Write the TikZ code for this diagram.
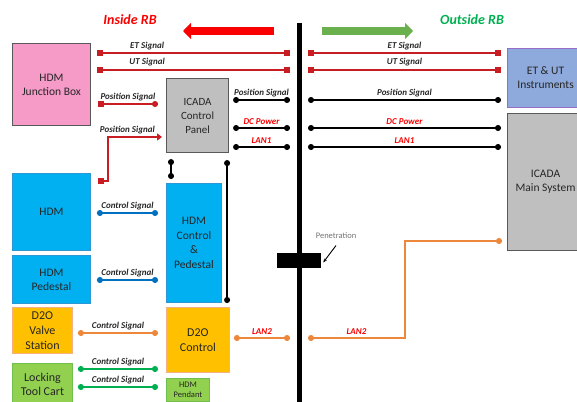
\documentclass[tikz,border=0pt]{standalone}
\usepackage{fontspec}
\setmainfont{Carlito}
\usepackage{xcolor}
\usetikzlibrary{arrows.meta, positioning, calc}
\definecolor{sigred}{RGB}{200,30,35}
\definecolor{txtred}{RGB}{250,0,0}
\definecolor{txtgreen}{RGB}{0,176,80}
\definecolor{arrgreen}{RGB}{106,176,76}
\definecolor{boxpink}{RGB}{246,154,200}
\definecolor{boxgray}{RGB}{191,191,191}
\definecolor{boxblue}{RGB}{0,176,240}
\definecolor{edgeblue}{RGB}{46,150,210}
\definecolor{boxorange}{RGB}{255,192,0}
\definecolor{edgeorange}{RGB}{244,177,131}
\definecolor{boxgreen}{RGB}{146,208,80}
\definecolor{edgegreen}{RGB}{112,190,80}
\definecolor{boxlav}{RGB}{142,169,219}
\definecolor{edgelav}{RGB}{150,110,200}
\definecolor{sigblue}{RGB}{0,112,192}
\definecolor{sigorange}{RGB}{237,135,60}
\definecolor{siggreen}{RGB}{0,176,80}
\definecolor{edgegray}{RGB}{89,89,89}
\tikzset{
  unit/.style={rectangle, anchor=north west, draw=edgegray, line width=0.9pt, align=center,
               text=black!85, font=\fontsize{11.5}{14}\selectfont, inner sep=0pt},
  lbl/.style={font=\fontsize{9}{10}\selectfont\bfseries\itshape, above=1.5pt, inner sep=1pt, text=black!85},
  redsig/.style={draw=sigred, line width=1.4pt, arrows={Square[length=6pt,width=6pt]-Square[length=6pt,width=6pt]}},
  blksig/.style={draw=black, line width=1.4pt, arrows={Circle[length=6pt,width=6pt]-Circle[length=6pt,width=6pt]}},
  bluesig/.style={blksig, draw=sigblue},
  orgsig/.style={blksig, draw=sigorange},
  grnsig/.style={blksig, draw=siggreen},
  side/.style={font=\fontsize{14}{16}\selectfont\bfseries\itshape},
}
\newcommand{\sig}[5]{\draw[#1] #2 -- node[lbl,pos=#5]{#4} #3;}

\begin{document}
\begin{tikzpicture}[x=1pt,y=-1pt]
\useasboundingbox (0,0) rectangle (577,401);
\clip (0,0) rectangle (577,401);

% Wall and sides
\coordinate (wtop) at (299,23);
\coordinate (wbot) at (299,405);
\draw[line width=5pt] (wtop) -- (wbot);
\node[side, text=txtred] (inlbl) at (130,20) {Inside RB};
\node[side, text=txtgreen] (outlbl) at (472,20) {Outside RB};
\coordinate (inA) at (274,31);
\coordinate (inB) at (183,31);
\coordinate (outA) at (322,31);
\coordinate (outB) at (413,31);
\draw[txtred, line width=8pt, -{Triangle[length=8pt,width=16pt]}] (inA) -- (inB);
\draw[arrgreen, line width=8pt, -{Triangle[length=8pt,width=16pt]}] (outA) -- (outB);

% Inside units
\node[unit, fill=boxpink, minimum width=78pt, minimum height=82pt] (jbox) at (12,43) {HDM\\Junction Box};
\node[unit, fill=boxgray, line width=1.1pt, minimum width=62pt, minimum height=74pt,
      font=\fontsize{11}{14}\selectfont] (cpanel) at (166,78) {ICADA\\Control\\Panel};
\node[unit, fill=boxblue, draw=edgeblue, minimum width=78pt, minimum height=77pt] (hdm) at (12,173) {HDM};
\node[unit, fill=boxblue, draw=edgeblue, minimum width=78pt, minimum height=48pt] (hdmped) at (12,255) {HDM\\Pedestal};
\node[unit, fill=boxblue, draw=edgeblue, minimum width=55pt, minimum height=119pt,
      font=\fontsize{11.5}{14.5}\selectfont] (hdmctl) at (166,183) {HDM\\Control\\\&\\Pedestal};
\node[unit, fill=boxorange, draw=edgeorange, minimum width=60pt, minimum height=46pt,
      font=\fontsize{12}{15}\selectfont] (d2ovalve) at (12,307) {D2O\\Valve\\Station};
\node[unit, fill=boxorange, draw=edgeorange, minimum width=63pt, minimum height=65pt,
      font=\fontsize{12}{15}\selectfont] (d2octl) at (166,307) {D2O\\Control};
\node[unit, fill=boxgreen, draw=edgegreen, minimum width=60pt, minimum height=42pt,
      font=\fontsize{12}{14}\selectfont] (cart) at (12,363) {Locking\\Tool Cart};
\node[unit, fill=boxgreen, draw=edgegreen, minimum width=43pt, minimum height=23pt,
      font=\fontsize{8.5}{10}\selectfont] (pendant) at (166,378) {HDM\\Pendant};

% Outside units
\node[unit, fill=boxlav, draw=edgelav, line width=1.1pt, minimum width=76pt, minimum height=59pt] (etut) at (507,48) {ET \& UT\\Instruments};
\node[unit, fill=boxgray, line width=1.1pt, minimum width=76pt, minimum height=137pt] (icada) at (507,113) {ICADA\\Main System};

% Penetration
\node[fill=black, minimum width=44pt, minimum height=15pt, inner sep=0pt] (pen) at (299,260.5) {};
\node[font=\fontsize{8.5}{9}\selectfont, text=black!55] (penlbl) at (336,236) {Penetration};
\draw[-{Stealth[length=4pt]}, line width=0.9pt] ([yshift=-3pt]penlbl.south) -- ([xshift=2pt,yshift=-2pt]pen.east);

% Signals inside RB
\sig{redsig}{([xshift=6pt]jbox.east |- 0,53)}{([xshift=-9pt]wtop |- 0,53)}{ET Signal}{0.26}
\sig{redsig,line width=2.4pt}{([xshift=6pt]jbox.east |- 0,70)}{([xshift=-9pt]wtop |- 0,70)}{UT Signal}{0.26}
\sig{redsig,arrows={Square[length=6pt,width=6pt]-Circle[length=6pt,width=6pt]}}{([xshift=7pt]jbox.east |- 0,104)}{([xshift=-8pt]cpanel.west |- 0,104)}{Position Signal}{0.5}
\draw[redsig,arrows={Square[length=6pt,width=6pt]-Triangle[length=5pt,width=7pt]}] ([xshift=7pt]hdm.east |- 0,181) -- ++(10,0)
  |- node[lbl,pos=0.68]{Position Signal} ([xshift=-4pt]cpanel.west |- 0,137);
\sig{blksig}{([xshift=4pt]cpanel.east |- 0,100)}{([xshift=-9pt]wtop |- 0,100)}{Position Signal}{0.5}
\sig{blksig}{([xshift=4pt]cpanel.east |- 0,128)}{([xshift=-9pt]wtop |- 0,128)}{\textcolor{txtred}{DC Power}}{0.5}
\sig{blksig}{([xshift=4pt]cpanel.east |- 0,147)}{([xshift=-9pt]wtop |- 0,147)}{\textcolor{txtred}{LAN1}}{0.5}
\draw[blksig] ([xshift=5pt,yshift=-6pt]cpanel.south west) -- ([xshift=5pt,yshift=4pt]hdmctl.north west);
\draw[blksig] ([xshift=-2pt,yshift=-7pt]cpanel.south east) -- ([xshift=-2pt,yshift=4pt]cpanel.south east |- d2octl.north);
\sig{bluesig}{([xshift=6pt]hdm.east |- 0,213)}{([xshift=-8pt]hdmctl.west |- 0,213)}{Control Signal}{0.5}
\sig{bluesig}{([xshift=6pt]hdmped.east |- 0,280)}{([xshift=-8pt]hdmctl.west |- 0,280)}{Control Signal}{0.5}
\sig{orgsig}{([xshift=5pt]d2ovalve.east |- 0,333)}{([xshift=-8pt]d2octl.west |- 0,333)}{Control Signal}{0.5}
\sig{orgsig}{([xshift=4pt]d2octl.east |- 0,338)}{([xshift=-9pt]wtop |- 0,338)}{\textcolor{txtred}{LAN2}}{0.5}
\sig{grnsig}{([xshift=5pt]cart.east |- 0,369)}{([xshift=-8pt]d2octl.west |- 0,369)}{Control Signal}{0.5}
\sig{grnsig}{([xshift=5pt]cart.east |- 0,387)}{([xshift=-8pt]pendant.west |- 0,387)}{Control Signal}{0.5}

% Signals outside RB
\sig{redsig}{([xshift=9pt]wtop |- 0,53)}{([xshift=-6pt]etut.west |- 0,53)}{ET Signal}{0.5}
\sig{redsig,line width=2.4pt}{([xshift=9pt]wtop |- 0,70)}{([xshift=-6pt]etut.west |- 0,70)}{UT Signal}{0.5}
\sig{blksig}{([xshift=9pt]wtop |- 0,100)}{([xshift=-6pt]etut.west |- 0,100)}{Position Signal}{0.5}
\sig{blksig}{([xshift=9pt]wtop |- 0,128)}{([xshift=-6pt]icada.west |- 0,128)}{\textcolor{txtred}{DC Power}}{0.5}
\sig{blksig}{([xshift=9pt]wtop |- 0,147)}{([xshift=-6pt]icada.west |- 0,147)}{\textcolor{txtred}{LAN1}}{0.5}
\draw[orgsig] ([xshift=9pt]wtop |- 0,338) -- node[lbl]{\textcolor{txtred}{LAN2}} ++(97,0) |- ([xshift=-5pt]icada.west |- 0,241);

\end{tikzpicture}
\end{document}
